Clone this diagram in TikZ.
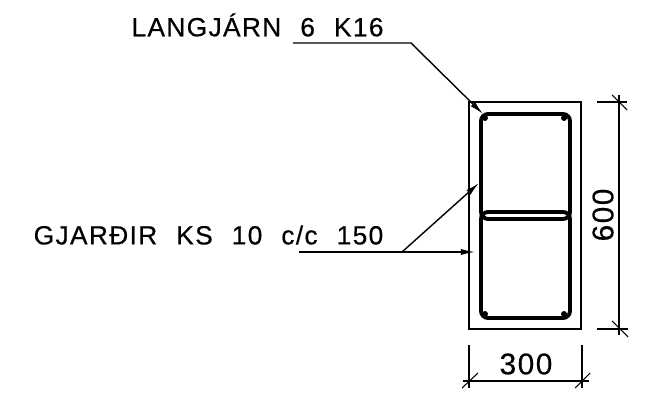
\documentclass[tikz,border=0pt]{standalone}
\usepackage{fontspec}
\newfontfamily\cadfont[LetterSpace=5,WordSpace=2.2,FakeBold=0.4]{Liberation Sans}
\usetikzlibrary{arrows.meta}
\tikzset{
    cadtext/.style={font=\cadfont\fontsize{15}{15}\selectfont, inner sep=0pt},
    dimtext/.style={font=\cadfont\fontsize{17}{17}\selectfont, inner sep=0pt},
    thin line/.style={line width=0.6pt},
    wall/.style={line width=1pt},
    rebar/.style={line width=2.2pt, rounded corners=4pt},
    leader/.style={line width=0.8pt, -{Latex[length=8pt,width=3.5pt]}},
}
\begin{document}
\begin{tikzpicture}[x=0.02cm, y=-0.02cm]
    \useasboundingbox (0, 0) rectangle (668, 404);
    % concrete section
    \draw[wall] (469, 102) rectangle (581, 329);
    % stirrups
    \draw[rebar] (481, 114) rectangle (570, 219);
    \draw[rebar] (481, 212) rectangle (570, 318);
    \foreach \x/\y in {485/118, 564/118, 485/314, 564/314} {
        \fill (\x, \y) circle[radius=3];
    }
    % labels
    \node[cadtext] (langjarn) at (257.5, 25) {LANGJÁRN 6 K16};
    \node[cadtext] (gjardir) at (208.5, 235) {GJARÐIR KS 10 c/c 150};
    \node[dimtext] (width) at (526, 364) {300};
    \node[dimtext, rotate=90] (height) at (603, 215) {600};
    % leaders
    \coordinate (a) at (293, 43);
    \coordinate (b) at (411, 43);
    \coordinate (c) at (483, 114);
    \coordinate (d) at (299, 252);
    \coordinate (e) at (402, 252);
    \coordinate (f) at (475, 252);
    \coordinate (g) at (479, 183);
    \draw[leader] (a) -- (b) -- (c);
    \draw[leader] (d) -- (f);
    \draw[leader] (e) -- (g);
    % dimensions
    \draw[thin line] (597, 102) -- (627, 102);
    \draw[thin line] (597, 329) -- (628, 329);
    \draw[thin line] (619, 95) -- (619, 335);
    \draw[thin line] (612, 95) -- (627, 110);
    \draw[thin line] (612, 321) -- (628, 337);
    \draw[thin line] (469, 345) -- (469, 388);
    \draw[thin line] (582, 345) -- (582, 388);
    \draw[thin line] (463, 381) -- (589, 381);
    \draw[thin line] (462, 388) -- (478, 373);
    \draw[thin line] (575, 388) -- (590, 373);
\end{tikzpicture}
\end{document}
